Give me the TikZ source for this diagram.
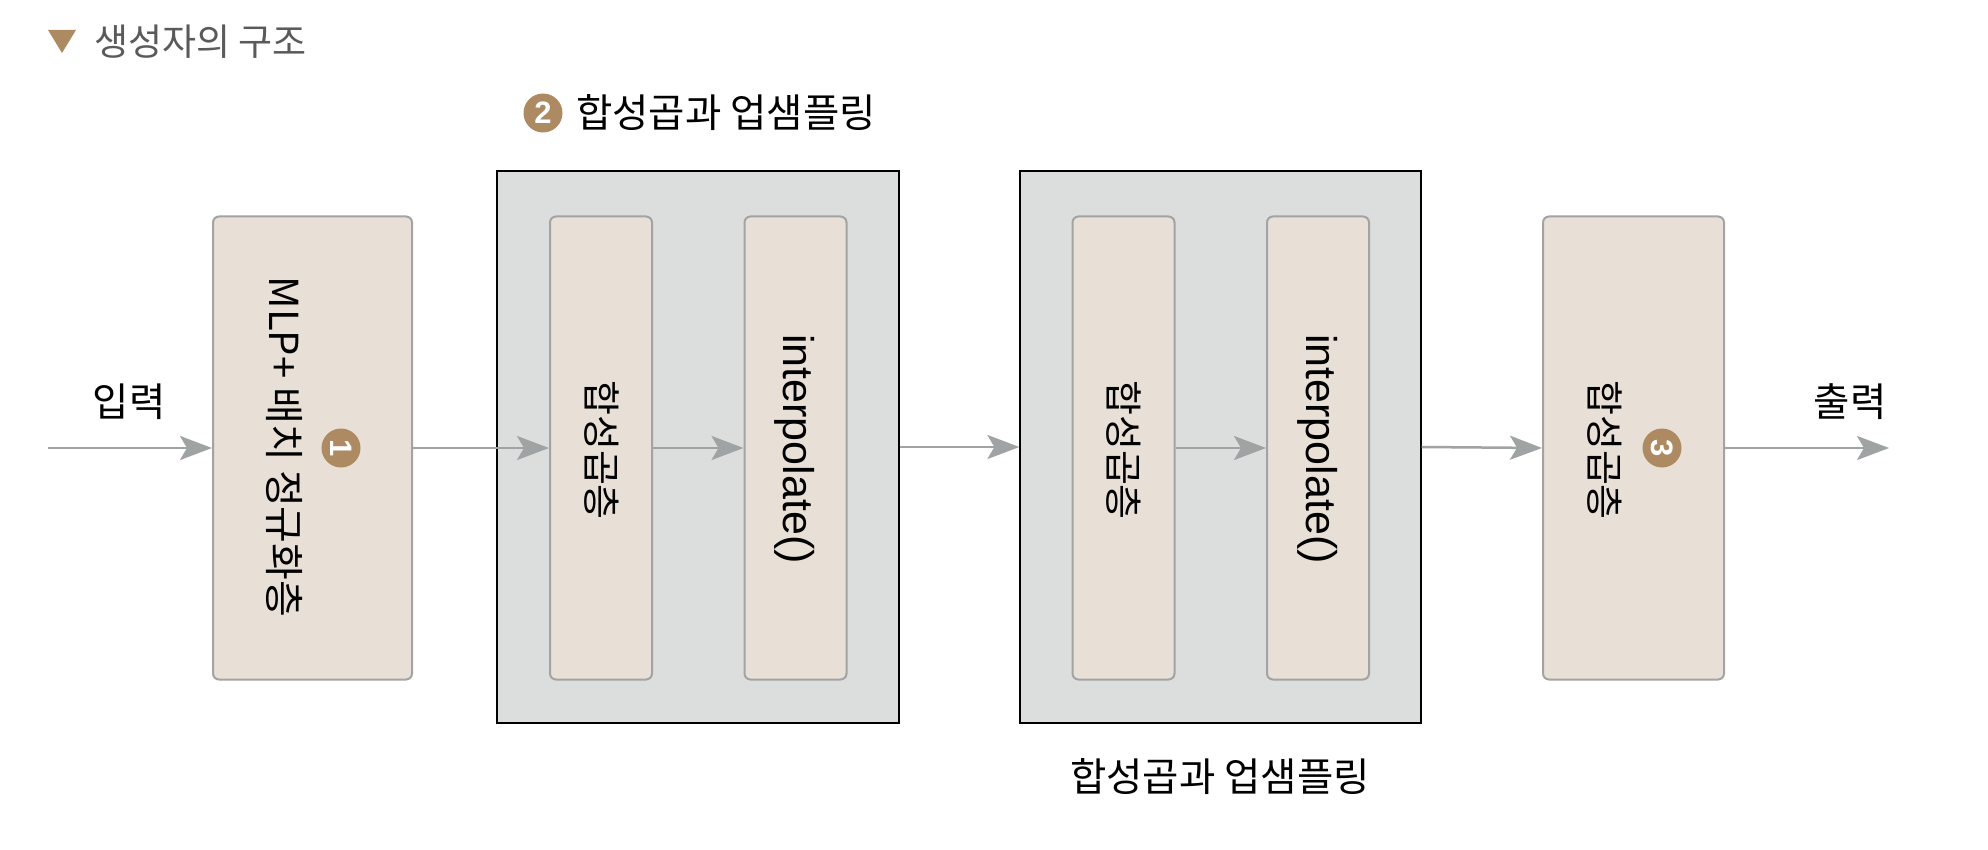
\documentclass[tikz,border=0pt]{standalone}
\usepackage{fontspec}
\setmainfont{Noto Sans CJK KR}
\newfontfamily\latinfont{Liberation Sans}
\usetikzlibrary{arrows.meta}
\definecolor{beige}{HTML}{E8E0D6}
\definecolor{boxline}{HTML}{A3A3A3}
\definecolor{panel}{HTML}{DCDEDE}
\definecolor{badge}{HTML}{AD8A62}
\definecolor{arrowgray}{HTML}{A0A3A3}
\definecolor{titlegray}{HTML}{5A5A5A}
\tikzset{
  layerbox/.style={draw=boxline, line width=2pt, fill=beige, rounded corners=6pt, minimum height=463pt, inner sep=0pt},
  panelbox/.style={draw=black, line width=1.2pt, fill=panel, minimum height=552pt, inner sep=0pt},
  arr/.style={draw=arrowgray, line width=2.5pt, -{Stealth[length=32pt,width=24pt,inset=7pt]}},
  lbl/.style={font=\fontsize{39.5}{44}\selectfont, inner sep=0pt},
  vlbl/.style={font=\fontsize{38}{42}\selectfont, inner sep=0pt, rotate=-90},
  latinv/.style={font=\latinfont\fontsize{43}{47}\selectfont, inner sep=0pt, rotate=-90},
  numbadge/.style={circle, fill=badge, minimum size=39pt, inner sep=0pt, text=white, font=\latinfont\fontsize{31}{31}\selectfont\bfseries}
}
\begin{document}
\begin{tikzpicture}[x=1pt,y=1pt]
\useasboundingbox (0,0) rectangle (1988,-850);
% title
\fill[badge] (48,-30) -- (76,-30) -- (62,-53) -- cycle;
\node[anchor=west, inner sep=0pt, text=titlegray, font=\fontsize{37}{40}\selectfont] (title) at (94,-42) {생성자의 구조};
% panels
\node[panelbox, minimum width=402pt] (p1) at (698,-447) {};
\node[panelbox, minimum width=401pt] (p2) at (1220.5,-447) {};
% boxes
\node[layerbox, minimum width=199pt] (b1) at (312.5,-448) {};
\node[layerbox, minimum width=102pt] (ia) at (601,-448) {};
\node[layerbox, minimum width=102pt] (ib) at (795.5,-448) {};
\node[layerbox, minimum width=102pt] (ic) at (1123.5,-448) {};
\node[layerbox, minimum width=102pt] (id) at (1318,-448) {};
\node[layerbox, minimum width=181pt] (b3) at (1633.5,-448) {};
% box texts
\node[vlbl, font=\fontsize{40}{44}\selectfont] (t1) at (285,-447) {MLP+ 배치 정규화층};
\node[numbadge, rotate=-90] (n1) at (341,-448) {1};
\node[vlbl] (ta) at (602,-450) {합성곱층};
\node[latinv] (tb) at (795,-449) {interpolate()};
\node[vlbl] (tc) at (1124,-450) {합성곱층};
\node[latinv] (td) at (1318,-449) {interpolate()};
\node[vlbl] (t3) at (1605,-450) {합성곱층};
\node[numbadge, rotate=-90] (n3) at (1662,-448) {3};
% labels
\node[lbl] (inl) at (129,-402) {입력};
\node[lbl] (outl) at (1850,-402) {출력};
\node[numbadge] (n2) at (543,-113) {2};
\node[lbl, anchor=west] (top) at (576,-113) {합성곱과 업샘플링};
\node[lbl] (bot) at (1220,-777) {합성곱과 업샘플링};
% arrows
\coordinate (start) at (48,-448);
\coordinate (finish) at (1889,-448);
\draw[arr] (start) -- (b1.west);
\draw[arr] (b1.east) -- (ia.west);
\draw[arr] (ia.east) -- (ib.west);
\draw[arr] (p1.east) -- (p2.west);
\draw[arr] (ic.east) -- (id.west);
\draw[arr] (p2.east) -- (b3.west);
\draw[arr] (b3.east) -- (finish);
\end{tikzpicture}
\end{document}
